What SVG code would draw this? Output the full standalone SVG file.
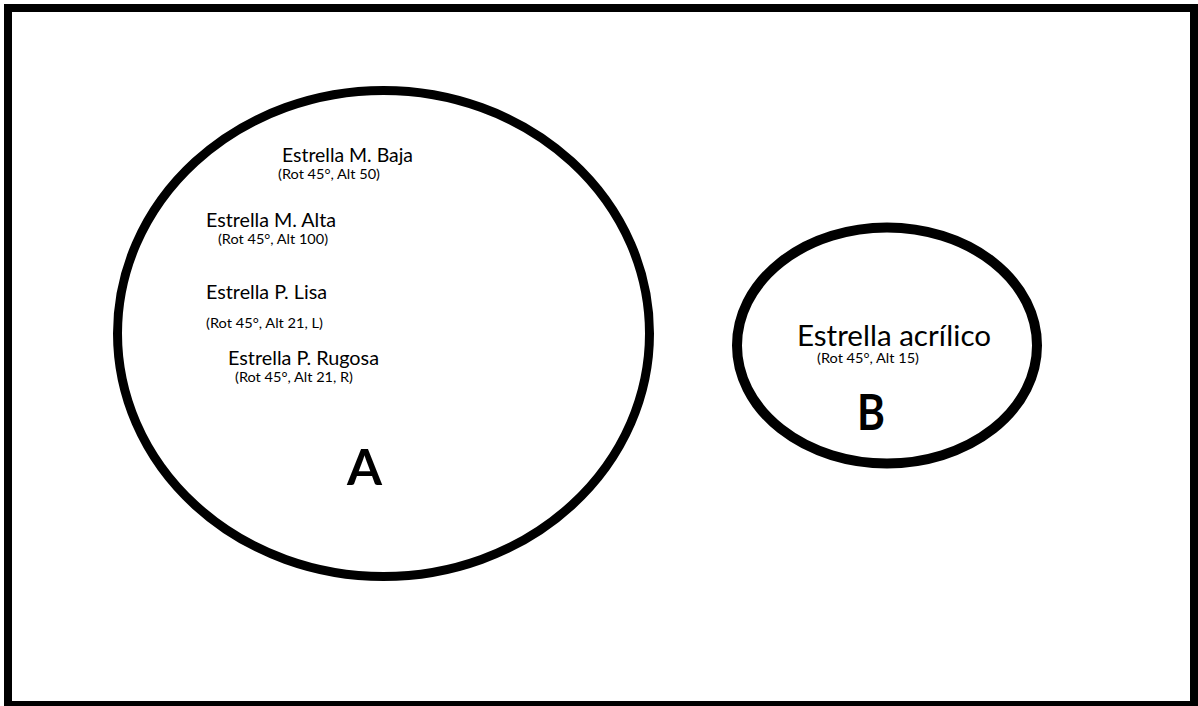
<svg xmlns="http://www.w3.org/2000/svg" width="1198" height="706" viewBox="0 0 1198 706">
<style>
.ring{fill:none;stroke:#000}
.lbl{font-family:Lato,"Open Sans","Liberation Sans",sans-serif;fill:#000}
.big{font-size:18.6px}
.small{font-size:13.5px}
.huge{font-size:28px}
.letter{font-size:50px;font-weight:bold}
</style>
<rect width="1198" height="706" fill="#fff"/>
<g id="frame">
<path d="M4 4H1198V706H4Z M12 12V701H1190V12Z" fill="#000" fill-rule="evenodd"/>
</g>
<g id="setA">
<ellipse class="ring" cx="383.5" cy="333.5" rx="266" ry="243" stroke-width="9"/>
<text class="lbl big" x="282" y="162" textLength="131" lengthAdjust="spacingAndGlyphs">Estrella M. Baja</text>
<text class="lbl small" x="278" y="179" textLength="102" lengthAdjust="spacingAndGlyphs">(Rot 45°, Alt 50)</text>
<text class="lbl big" x="206" y="226.7" textLength="130" lengthAdjust="spacingAndGlyphs">Estrella M. Alta</text>
<text class="lbl small" x="218" y="244.3" textLength="110" lengthAdjust="spacingAndGlyphs">(Rot 45°, Alt 100)</text>
<text class="lbl big" x="206" y="299" textLength="121" lengthAdjust="spacingAndGlyphs">Estrella P. Lisa</text>
<text class="lbl small" x="206" y="327.7" textLength="117" lengthAdjust="spacingAndGlyphs">(Rot 45°, Alt 21, L)</text>
<text class="lbl big" x="228" y="365" textLength="151" lengthAdjust="spacingAndGlyphs">Estrella P. Rugosa</text>
<text class="lbl small" x="235" y="381.7" textLength="118" lengthAdjust="spacingAndGlyphs">(Rot 45°, Alt 21, R)</text>
<text class="lbl letter" x="347" y="485" textLength="35" lengthAdjust="spacingAndGlyphs">A</text>
</g>
<g id="setB">
<ellipse class="ring" cx="887" cy="345.5" rx="150" ry="118" stroke-width="10"/>
<text class="lbl huge" x="797" y="346" textLength="194" lengthAdjust="spacingAndGlyphs">Estrella acrílico</text>
<text class="lbl small" x="817" y="363.3" textLength="102" lengthAdjust="spacingAndGlyphs">(Rot 45°, Alt 15)</text>
<text class="lbl letter" x="857" y="430" textLength="28" lengthAdjust="spacingAndGlyphs">B</text>
</g>
</svg>
